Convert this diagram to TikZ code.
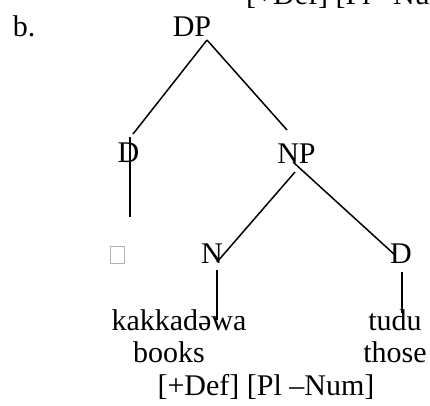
\documentclass[tikz,border=0pt]{standalone}
\usepackage{fontspec}
\setmainfont{Liberation Serif}
\begin{document}
\begin{tikzpicture}[x=1pt,y=-1pt,
  lbl/.style={anchor=base,inner sep=0pt,font=\fontsize{30}{36}\selectfont},
  branch/.style={line width=1.5pt,line cap=butt},
  tofu/.style={draw=gray!60,line width=0.8pt,inner sep=0pt,minimum width=14pt,minimum height=17pt}]
\useasboundingbox (0,0) rectangle (430,405);
% labels
\node[lbl,anchor=base west] (topfeat) at (246,4) {[+Def] [Pl –Num]};
\node[lbl] (b) at (24,36) {b.};
\node[lbl] (DP) at (192,36) {DP};
\node[lbl] (Dl) at (128.5,162) {D};
\node[lbl] (NP) at (296.5,163) {NP};
\node[tofu] (box) at (117,254.5) {};
\node[lbl] (N) at (212,263) {N};
\node[lbl] (Dr) at (401,263) {D};
\node[lbl] (kak) at (179,330) {kakkadəwa};
\node[lbl] (tudu) at (395,330) {tudu};
\node[lbl] (books) at (169,362) {books};
\node[lbl] (those) at (395,362) {those};
\node[lbl] (feat) at (266,395) {[+Def] [Pl –Num]};
% connector end points
\coordinate (dpA) at (207,40);
\coordinate (dlT) at (133,134);
\coordinate (npT) at (287,130);
\coordinate (dlV1) at (130,137);
\coordinate (dlV2) at (130,217);
\coordinate (npL) at (295,172);
\coordinate (nB) at (217,262);
\coordinate (npR) at (293,162);
\coordinate (drL) at (395,255);
\coordinate (nV1) at (217,270);
\coordinate (nV2) at (217,320);
\coordinate (drV1) at (402,272);
\coordinate (drV2) at (402,313);
% branches
\draw[branch] (dpA) -- (dlT);
\draw[branch] (dpA) -- (npT);
\draw[branch] (dlV1) -- (dlV2);
\draw[branch] (npL) -- (nB);
\draw[branch] (npR) -- (drL);
\draw[branch] (nV1) -- (nV2);
\draw[branch] (drV1) -- (drV2);
\end{tikzpicture}
\end{document}
